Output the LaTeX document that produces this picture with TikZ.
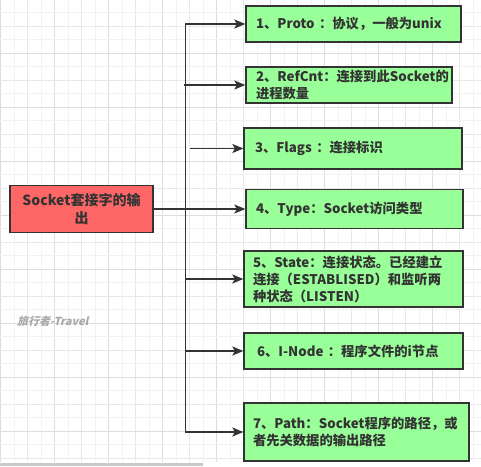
\documentclass[tikz,border=0pt]{standalone}
\usepackage{fontspec}
\setmainfont{Noto Sans CJK SC}
\newfontfamily\wmfont[FakeSlant=0.25]{Noto Sans CJK SC}
\usetikzlibrary{arrows.meta}
\definecolor{boxgreen}{HTML}{99FF99}
\definecolor{boxred}{HTML}{FF6666}
\definecolor{edgecol}{HTML}{333333}
\definecolor{gmajor}{HTML}{DDDDDD}
\definecolor{gmid}{HTML}{E8E8E8}
\definecolor{gminor}{HTML}{F2F2F2}
\definecolor{wmcol}{HTML}{A8A8A8}
\definecolor{barcol}{HTML}{C8C8C8}
\begin{document}
\begin{tikzpicture}[x=1pt,y=-1pt,
  itembox/.style={draw=edgecol, line width=1.3pt, fill=boxgreen, inner sep=0pt,
    text=edgecol, align=left, font=\fontsize{13.3}{17}\selectfont\bfseries},
  mainbox/.style={draw=edgecol, line width=1.3pt, fill=boxred, inner sep=0pt,
    text=edgecol, align=center, font=\fontsize{14}{18}\selectfont\bfseries},
  link/.style={draw=edgecol, line width=1.5pt},
  arrowlink/.style={link, -{Stealth[length=11pt,width=9pt,inset=2.5pt]}}]
\useasboundingbox (0,0) rectangle (481,466);
\fill[white] (0,0) rectangle (481,466);
% grid
\foreach \k in {0,...,35} {
  \pgfmathtruncatemacro\m{mod(\k,4)}
  \pgfmathtruncatemacro\n{mod(\k,2)}
  \pgfmathsetmacro\xx{0.7+13.5*\k}
  \ifnum\m=0 \def\gc{gmajor}\else\ifnum\n=0 \def\gc{gmid}\else\def\gc{gminor}\fi\fi
  \draw[\gc, line width=1pt] (\xx,0) -- (\xx,461.7);
}
\foreach \k in {1,...,34} {
  \pgfmathtruncatemacro\m{mod(\k,4)}
  \pgfmathtruncatemacro\n{mod(\k,2)}
  \pgfmathsetmacro\yy{-0.7+13.5*\k}
  \ifnum\m=0 \def\gc{gmajor}\else\ifnum\n=0 \def\gc{gmid}\else\def\gc{gminor}\fi\fi
  \draw[\gc, line width=1pt] (0,\yy) -- (481,\yy);
}
\fill[barcol] (0,463) rectangle (203,466);
% watermark
\node[anchor=west, inner sep=0pt, text=wmcol, font=\fontsize{11}{13}\selectfont\wmfont\bfseries] (wm) at (17,321) {旅行者-Travel};
% nodes
\node[mainbox, minimum width=143pt, minimum height=47pt, text width=136pt] (main) at (81.5,209) {Socket套接字的输\\出};
\node[itembox, minimum width=215pt, minimum height=36pt, text width=195pt] (b1) at (353.5,24) {1、Proto ：协议，一般为unix};
\node[itembox, minimum width=206pt, minimum height=36pt, text width=186pt] (b2) at (349,85) {2、RefCnt：连接到此Socket的\\进程数量};
\node[itembox, minimum width=218pt, minimum height=41pt, text width=196pt] (b3) at (353,148.5) {3、Flags ：连接标识};
\node[itembox, minimum width=217pt, minimum height=39pt, text width=197pt] (b4) at (354.5,209) {4、Type：Socket访问类型};
\node[itembox, minimum width=219pt, minimum height=56pt, text width=201pt] (b5) at (353.5,279) {5、State：连接状态。已经建立\\连接（ESTABLISED）和监听两\\种状态（LISTEN）};
\node[itembox, minimum width=219pt, minimum height=36pt, text width=193pt] (b6) at (353.5,351) {6、I-Node ：程序文件的i节点};
\node[itembox, minimum width=225pt, minimum height=58pt, text width=207pt] (b7) at (356.5,432) {7、Path：Socket程序的路径，或\\者先关数据的输出路径};
% connectors
\coordinate (t1) at (185.5,24);
\coordinate (t7) at (185.5,432);
\coordinate (s2) at (184,85);
\coordinate (s3) at (190,148.5);
\coordinate (s5) at (185.5,279);
\coordinate (s6) at (185.5,351);
\draw[link, line cap=rect] (t1) -- (t7);
\draw[arrowlink] (t1) -- (b1.west);
\draw[arrowlink] (s2) -- (b2.west);
\draw[arrowlink] (s3) -- (b3.west);
\draw[arrowlink] (main.east) -- (b4.west);
\draw[arrowlink] (s5) -- (b5.west);
\draw[arrowlink] (s6) -- (b6.west);
\draw[arrowlink] (t7) -- (b7.west);
\end{tikzpicture}
\end{document}
